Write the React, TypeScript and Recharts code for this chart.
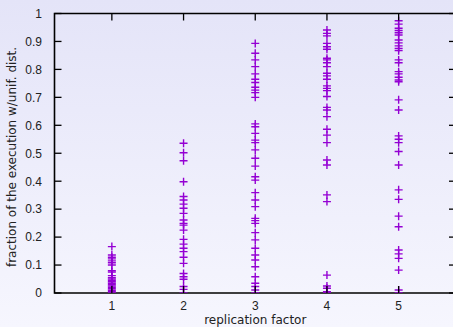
import React from 'react';
import { ScatterChart, Scatter, XAxis, YAxis, ReferenceArea } from 'recharts';

// ---- data ----
const replicationFactors = [1, 2, 3, 4, 5];

const fractionsR1 = [0.166, 0.136, 0.128, 0.122, 0.115, 0.108, 0.1, 0.08, 0.075, 0.062, 0.055, 0.05, 0.045, 0.04, 0.035, 0.03, 0.025, 0.02, 0.015, 0.01, 0.005, 0];
const fractionsR2 = [0.536, 0.502, 0.473, 0.398, 0.345, 0.333, 0.318, 0.303, 0.285, 0.261, 0.249, 0.243, 0.225, 0.192, 0.175, 0.16, 0.148, 0.128, 0.106, 0.07, 0.058, 0.049, 0.023, 0.013, 0];
const fractionsR3 = [0.893, 0.858, 0.834, 0.81, 0.784, 0.765, 0.753, 0.736, 0.726, 0.717, 0.7, 0.605, 0.595, 0.571, 0.547, 0.538, 0.512, 0.482, 0.454, 0.416, 0.404, 0.359, 0.333, 0.309, 0.267, 0.259, 0.249, 0.216, 0.19, 0.16, 0.136, 0.118, 0.094, 0.058, 0.035, 0.023, 0.011, 0];
const fractionsR4 = [0.941, 0.929, 0.92, 0.893, 0.881, 0.872, 0.84, 0.834, 0.824, 0.81, 0.786, 0.777, 0.765, 0.741, 0.732, 0.724, 0.703, 0.664, 0.655, 0.631, 0.586, 0.565, 0.538, 0.476, 0.458, 0.351, 0.327, 0.064, 0.025, 0.017, 0.005, 0];
const fractionsR5 = [0.974, 0.962, 0.947, 0.939, 0.931, 0.923, 0.905, 0.895, 0.884, 0.875, 0.867, 0.834, 0.824, 0.792, 0.784, 0.772, 0.762, 0.756, 0.691, 0.655, 0.562, 0.55, 0.538, 0.506, 0.458, 0.369, 0.335, 0.275, 0.237, 0.154, 0.14, 0.124, 0.082, 0.011, 0];

const fractionsByFactor = [fractionsR1, fractionsR2, fractionsR3, fractionsR4, fractionsR5];

const xTicks = [1, 2, 3, 4, 5];
const yTicks = [0, 0.1, 0.2, 0.3, 0.4, 0.5, 0.6, 0.7, 0.8, 0.9, 1];
const yTickLabels = ['0', '0.1', '0.2', '0.3', '0.4', '0.5', '0.6', '0.7', '0.8', '0.9', '1'];
const xDomain = [0.2, 5.8];
const yDomain = [0, 1];
const xLabel = 'replication factor';
const yLabel = 'fraction of the execution w/unif. dist.';

const points = replicationFactors.flatMap((f, i) =>
  fractionsByFactor[i].map((v) => ({ x: f, y: v }))
);

// ---- layout ----
const W = 460;
const H = 327;
const PLOT_LEFT = 54.5;
const PLOT_RIGHT = 456;
const PLOT_TOP = 13.5;
const PLOT_BOTTOM = 293;
const TICK = 7;
const TICK_FONT = '"Liberation Sans", Arial, sans-serif';
const LABEL_FONT = '"DejaVu Sans", sans-serif';
const TEXT = '#222';
const VIOLET = '#9400D3';

const PlusMarker = (props: any) => {
  const { cx, cy } = props;
  if (cx == null || cy == null) return null;
  const r = 4;
  return (
    <g stroke={VIOLET} strokeWidth={1.4}>
      <line x1={cx - r} y1={cy} x2={cx + r} y2={cy} />
      <line x1={cx} y1={cy - r} x2={cx} y2={cy + r} />
    </g>
  );
};

const YTick = (props: any) => {
  const { y, payload } = props;
  const idx = yTicks.indexOf(payload.value);
  const label = idx >= 0 ? yTickLabels[idx] : String(payload.value);
  return (
    <g>
      <line x1={PLOT_LEFT} y1={y} x2={PLOT_LEFT + TICK} y2={y} stroke="#000" strokeWidth={1.3} />
      <line x1={PLOT_RIGHT - TICK} y1={y} x2={PLOT_RIGHT} y2={y} stroke="#000" strokeWidth={1.3} />
      <text x={42} y={y} dy={4.3} textAnchor="end" fontFamily={TICK_FONT} fontSize={12} fill={TEXT}>
        {label}
      </text>
    </g>
  );
};

const XTick = (props: any) => {
  const { x, payload } = props;
  return (
    <g>
      <line x1={x} y1={PLOT_BOTTOM} x2={x} y2={PLOT_BOTTOM - TICK} stroke="#000" strokeWidth={1.3} />
      <line x1={x} y1={PLOT_TOP} x2={x} y2={PLOT_TOP + TICK} stroke="#000" strokeWidth={1.3} />
      <text x={x} y={309.5} textAnchor="middle" fontFamily={TICK_FONT} fontSize={12} fill={TEXT}>
        {String(payload.value)}
      </text>
    </g>
  );
};

const YLabel = () => (
  <text
    transform={`translate(16, 157) rotate(-90)`}
    textAnchor="middle"
    fontFamily={LABEL_FONT}
    fontSize={12}
    fill={TEXT}
  >
    {yLabel}
  </text>
);

const XLabel = () => (
  <text x={(PLOT_LEFT + PLOT_RIGHT) / 2} y={323.5} textAnchor="middle" fontFamily={LABEL_FONT} fontSize={12} fill={TEXT}>
    {xLabel}
  </text>
);

export default function App() {
  return (
    <div
      style={{
        position: 'absolute',
        left: 0,
        top: 0,
        width: 453,
        height: 327,
        overflow: 'hidden',
        background: 'linear-gradient(to bottom, #e4e4f8 0%, #f6f6fe 100%)',
      }}
    >
      <ScatterChart
        width={W}
        height={H}
        margin={{ top: PLOT_TOP, right: W - PLOT_RIGHT, bottom: 0, left: 0 }}
      >
        <XAxis
          type="number"
          dataKey="x"
          domain={xDomain}
          ticks={xTicks}
          allowDataOverflow
          height={H - PLOT_BOTTOM}
          tickSize={0}
          tickMargin={0}
          axisLine={false}
          tickLine={false}
          tick={<XTick />}
          label={<XLabel />}
        />
        <YAxis
          type="number"
          dataKey="y"
          domain={yDomain}
          ticks={yTicks}
          allowDataOverflow
          width={PLOT_LEFT}
          tickSize={0}
          tickMargin={0}
          axisLine={false}
          tickLine={false}
          tick={<YTick />}
          label={<YLabel />}
        />
        <ReferenceArea
          x1={xDomain[0]}
          x2={xDomain[1]}
          y1={yDomain[0]}
          y2={yDomain[1]}
          fill="none"
          fillOpacity={0}
          stroke="#000"
          strokeWidth={1.6}
          ifOverflow="visible"
        />
        <Scatter data={points} shape={<PlusMarker />} isAnimationActive={false} />
      </ScatterChart>
    </div>
  );
}
